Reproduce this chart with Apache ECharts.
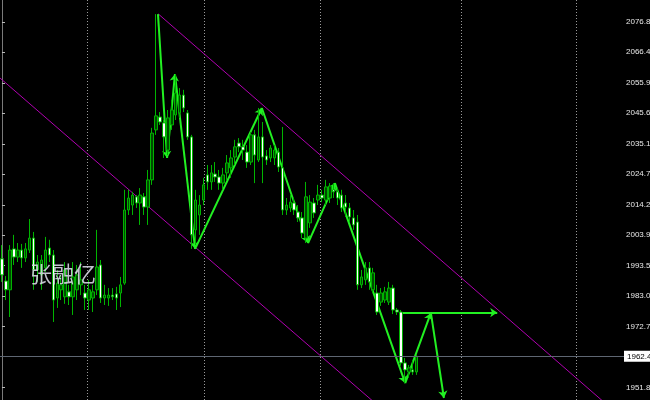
<!DOCTYPE html>
<html>
<head>
<meta charset="utf-8">
<script src="https://cdn.jsdelivr.net/npm/echarts@6/dist/echarts.min.js"></script>
<style>
html,body{margin:0;padding:0;background:#000;}
#chart{width:650px;height:400px;}
</style>
</head>
<body>
<div id="chart"></div>
<script>
// candles: [open, close, low, high]
const candles = [
[1995.8,1990.3,1987.9,2000.5],[1988.2,1985.2,1981.7,1989.9],[1985.2,1998.8,1975.9,2000.5],[1999.2,1996.4,1993.7,2004.0],
[1996.4,1998.8,1994.7,2001.2],[1998.8,1996.1,1992.7,2000.9],[1996.1,1999.2,1994.7,2001.2],[1998.8,2002.9,1997.8,2009.4],
[2002.9,1992.0,1985.2,2005.0],[1992.0,1994.7,1987.9,1997.1],[1990.3,1995.4,1985.2,1997.1],[1992.7,1998.8,1991.3,2003.3],
[1999.5,1997.1,1994.7,2002.3],[1997.1,1981.7,1974.2,1998.8],[1982.4,1987.5,1979.0,1992.0],[1985.2,1986.9,1981.7,1990.3],
[1982.8,1992.0,1980.4,1994.7],[1984.5,1982.8,1980.0,1986.9],[1982.8,1989.6,1976.6,1994.7],[1985.2,1990.3,1981.7,1993.7],
[1986.9,1988.6,1983.4,1994.7],[1984.1,1982.4,1978.3,1986.9],[1981.7,1985.2,1978.3,1988.6],[1982.4,1984.5,1977.6,1986.9],
[1985.2,1993.0,1983.4,2005.7],[1993.7,1982.4,1980.7,1995.4],[1982.4,1983.4,1980.0,1986.9],[1982.4,1983.4,1979.7,1985.8],
[1983.4,1982.8,1981.7,1985.8],[1983.8,1982.4,1978.3,1986.2],[1984.1,1986.9,1979.3,1989.6],[1987.5,2012.5,1986.9,2019.4],
[2012.5,2016.6,2010.8,2019.4],[2014.2,2017.6,2010.8,2018.7],[2017.0,2014.9,2013.2,2017.6],[2014.9,2017.6,2007.4,2020.0],
[2017.0,2013.5,2010.8,2018.3],[2013.5,2022.8,2007.4,2026.2],[2022.8,2038.8,2021.1,2040.6],[2039.9,2044.7,2038.2,2079.5],
[2044.3,2042.6,2041.6,2046.0],[2042.3,2037.5,2030.3,2043.3],[2033.0,2044.0,2031.3,2046.7],[2041.6,2046.7,2039.9,2050.1],
[2045.0,2052.5,2043.3,2059.0],[2045.7,2051.8,2044.0,2054.2],[2051.8,2047.4,2046.0,2053.6],[2045.7,2037.5,2036.5,2046.7],
[2037.5,2004.0,1999.2,2038.2],[2005.7,2015.9,2000.5,2019.4],[2010.8,2014.2,2004.0,2017.6],[2015.9,2021.1,2014.2,2023.5],
[2024.5,2022.1,2019.4,2027.9],[2022.1,2025.2,2019.4,2027.9],[2024.8,2023.8,2022.1,2028.9],[2023.8,2021.7,2019.4,2026.2],
[2021.7,2024.5,2019.4,2026.9],[2025.2,2028.6,2022.8,2031.3],[2026.9,2030.3,2023.5,2033.0],[2030.6,2034.1,2027.9,2036.5],
[2035.4,2034.1,2032.3,2037.1],[2034.1,2033.0,2029.6,2036.5],[2032.3,2028.9,2026.9,2034.7],[2028.9,2038.2,2027.9,2039.2],
[2038.2,2031.3,2021.7,2039.9],[2029.6,2037.5,2028.9,2047.4],[2037.5,2030.6,2021.7,2042.6],[2031.0,2029.6,2027.9,2033.0],
[2030.3,2033.7,2028.9,2034.7],[2030.3,2033.0,2027.9,2034.7],[2032.3,2027.2,2025.5,2033.7],[2026.9,2012.5,2010.8,2040.9],
[2012.5,2014.2,2010.8,2016.6],[2013.2,2015.2,2011.8,2017.6],[2014.9,2012.5,2010.8,2016.6],[2011.8,2009.8,2008.4,2014.2],
[2009.8,2004.6,2002.9,2011.8],[2002.9,2017.0,2001.2,2022.1],[2008.1,2015.2,2006.4,2017.6],[2014.9,2011.5,2009.8,2016.6],
[2015.9,2017.6,2014.2,2021.1],[2017.6,2016.6,2015.2,2019.4],[2015.9,2020.4,2014.2,2022.8],[2016.6,2020.7,2014.9,2021.7],
[2019.4,2018.7,2016.6,2021.7],[2018.7,2016.6,2014.2,2020.0],[2017.6,2013.2,2011.8,2019.4],[2014.9,2013.5,2010.1,2017.6],
[2013.2,2010.1,2008.4,2014.9],[2009.8,2007.4,2005.7,2012.5],[2008.4,1986.9,1985.2,2010.8],[1986.9,1989.6,1985.8,1992.0],
[1988.6,1992.7,1986.9,1994.7],[1992.7,1987.9,1985.2,1994.7],[1985.2,1991.0,1984.1,1992.7],[1984.1,1977.6,1976.6,1986.9],
[1981.0,1984.1,1979.7,1985.8],[1981.7,1984.5,1980.7,1986.2],[1981.0,1985.8,1980.0,1987.9],[1985.8,1978.3,1976.9,1986.9],
[1978.3,1977.6,1976.6,1979.0],[1977.6,1960.2,1959.2,1978.3],[1960.2,1957.8,1953.3,1961.9],[1957.1,1958.5,1955.1,1959.5],
[1957.8,1957.1,1956.1,1961.2],[1957.1,1962.45,1956.1,1962.9]
];
const slotCount = 158;               // bar slots across the plot (incl. empty future area)
const categories = Array.from({length: slotCount}, (_, i) => String(i));

const tickValues = [2076.80, 2066.45, 2055.95, 2045.60, 2035.10, 2024.75, 2014.25, 2003.90, 1993.55, 1983.05, 1972.70, 1951.85];
const priceMin = 1947.51, priceMax = 2084.33;
const currentPrice = 1962.45;

// zigzag vertices [bar index, price]
const zigzag = [[39.5,2079.5],[41.8,2030.3],[43.8,2059.0],[48.9,1999.2],[65.8,2047.4],[77.5,2001.2],[84.3,2021.7],[102.1,1953.3],[108.6,1977.3],[111.9,1948.2]];
const levelLine = [[100.8,1977.4],[125.4,1977.4]];
const upperChannel = [[39.6,2079.54],[157.5,1940.8]];
const lowerChannel = [[-0.5,2057.65],[100.8,1939.05]];
const separators = [21.5, 51.2, 80.5, 116.2, 145.4];

const zigSegs = [];
for (let i = 0; i < zigzag.length - 1; i++) zigSegs.push({coords: [zigzag[i], zigzag[i+1]]});

const chart = echarts.init(document.getElementById('chart'));
chart.setOption({
  backgroundColor: '#000000',
  animation: false,
  grid: {left: 0, right: 26, top: 0, bottom: 0, containLabel: false, outerBoundsMode: 'none'},
  xAxis: [
    {type: 'category', data: categories, show: false, boundaryGap: true},
    {type: 'value', min: -0.5, max: slotCount - 0.5, show: false}
  ],
  yAxis: {
    type: 'value', position: 'right', min: priceMin, max: priceMax, scale: true,
    axisLine: {show: true, lineStyle: {color: '#7a7a7a', width: 1}},
    axisTick: {show: true, length: 3, customValues: tickValues, lineStyle: {color: '#bbbbbb'}},
    axisLabel: {show: true, customValues: tickValues, margin: 2, color: '#e8e8e8',
      fontFamily: 'Liberation Sans', fontSize: 8, formatter: v => v.toFixed(2)},
    splitLine: {show: false}
  },
  series: [
    {
      type: 'lines', coordinateSystem: 'cartesian2d', xAxisIndex: 1, yAxisIndex: 0,
      silent: true, symbol: 'none',
      lineStyle: {color: '#9a9a9a', width: 1, type: [1, 2], opacity: 1},
      data: separators.map(x => ({coords: [[x, priceMax], [x, priceMin]]}))
    },
    {
      type: 'lines', coordinateSystem: 'cartesian2d', xAxisIndex: 1, yAxisIndex: 0,
      silent: true, symbol: 'none',
      lineStyle: {color: '#b000b0', width: 1, opacity: 1},
      data: [{coords: upperChannel}, {coords: lowerChannel}]
    },
    {
      type: 'candlestick', xAxisIndex: 0, yAxisIndex: 0, data: candles,
      barWidth: 3, barMinWidth: 3,
      itemStyle: {color: '#004a00', color0: '#ffffff', borderColor: '#00b400', borderColor0: '#00b400', borderWidth: 1},
      markLine: {
        silent: true, symbol: 'none',
        lineStyle: {color: '#5e6672', width: 1, type: 'solid'},
        label: {show: true, position: 'end', distance: 0, formatter: () => currentPrice.toFixed(2),
          backgroundColor: '#ffffff', color: '#000000', fontFamily: 'Liberation Sans', fontSize: 8, padding: [2, 3, 1, 3]},
        data: [{yAxis: currentPrice}]
      }
    },
    {
      type: 'lines', coordinateSystem: 'cartesian2d', xAxisIndex: 1, yAxisIndex: 0,
      silent: true, symbol: ['none', 'arrow'], symbolSize: 7,
      lineStyle: {color: '#22f022', width: 2, opacity: 1},
      data: zigSegs.concat([{coords: levelLine}])
    }
  ],
  graphic: [{
    type: 'text', left: 30, top: 263, silent: true, z: 100,
    style: {text: '张融亿', fill: 'rgba(215,215,228,0.9)', font: '22px "Noto Sans CJK SC"'}
  }]
});
</script>
</body>
</html>
